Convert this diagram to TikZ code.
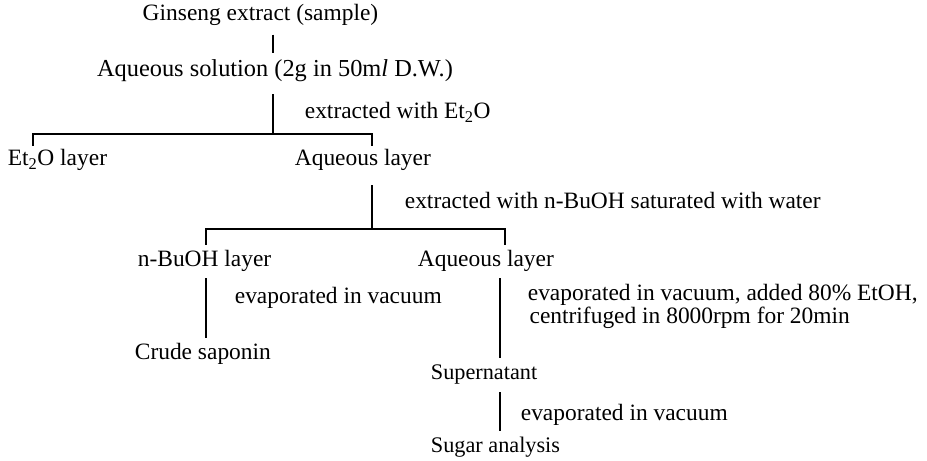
\documentclass[tikz,border=0pt]{standalone}
\usepackage{fontspec}
\setmainfont{Liberation Serif}
\begin{document}
\begin{tikzpicture}[x=0.03cm,y=-0.03cm,line width=0.9pt]
\tikzset{lbl/.style={inner sep=2pt,text height=14.4pt,text depth=4.4pt,font=\fontsize{20}{17}\selectfont},
  note/.style={inner sep=2pt,align=left,font=\fontsize{20}{17}\selectfont}}
\useasboundingbox (0,0) rectangle (927,461);
\node[lbl] (gin) at (260.5,15) {Ginseng extract (sample)};
\node[lbl,font=\fontsize{20.8}{17}\selectfont] (aqsol) at (275,71) {Aqueous solution (2g in 50m\textit{l} D.W.)};
\node[lbl,anchor=west] (ext1) at (302,113) {extracted with Et\textsubscript{2}O};
\node[lbl,anchor=west] (et2o) at (5,160) {Et\textsubscript{2}O layer};
\node[lbl,anchor=west] (aq1) at (292,160) {Aqueous layer};
\node[lbl,anchor=west] (ext2) at (402,203) {extracted with n-BuOH saturated with water};
\node[lbl,anchor=west] (buoh) at (135,261) {n-BuOH layer};
\node[lbl,anchor=west] (aq2) at (415,261) {Aqueous layer};
\node[lbl,anchor=west] (evap1) at (232,298) {evaporated in vacuum};
\node[lbl,anchor=west] (crude) at (132,354) {Crude saponin};
\node[note,anchor=west] (evap2) at (525,306.6) {evaporated in vacuum, added 80\% EtOH,\\\hspace{1.5pt}centrifuged in 8000rpm for 20min};
\node[lbl,anchor=west,font=\fontsize{19}{17}\selectfont] (super) at (428,374) {Supernatant};
\node[lbl,anchor=west] (evap3) at (518,415) {evaporated in vacuum};
\node[lbl,anchor=west,font=\fontsize{19}{17}\selectfont] (sugar) at (428,447) {Sugar analysis};
\coordinate (j1) at (273,134);
\coordinate (b1l) at (33,134);
\coordinate (b1r) at (372,134);
\coordinate (b2l) at (206,229);
\coordinate (b2r) at (505,229);
\coordinate (r1) at (500,0);
\draw[shorten <=4.8pt,shorten >=3.9pt] (gin.south -| j1) -- (aqsol.north -| j1);
\draw[shorten <=8.2pt] (aqsol.south -| j1) -- (j1);
\draw[shorten <=0.5pt,shorten >=0.5pt] (b1l |- et2o.north) -- (b1l) -- (b1r) -- (b1r |- aq1.north);
\draw[shorten <=9.9pt] (aq1.south -| b1r) -- (b1r |- b2r);
\draw[shorten <=2.2pt,shorten >=2.2pt] (b2l |- buoh.north) -- (b2l) -- (b2r) -- (b2r |- aq2.north);
\draw[shorten <=3pt,shorten >=2.2pt] (buoh.south -| b2l) -- (crude.north -| b2l);
\draw[shorten <=3pt,shorten >=2.2pt] (aq2.south -| r1) -- (super.north -| r1);
\draw[shorten <=3.9pt,shorten >=1.4pt] (super.south -| r1) -- (sugar.north -| r1);
\end{tikzpicture}
\end{document}
